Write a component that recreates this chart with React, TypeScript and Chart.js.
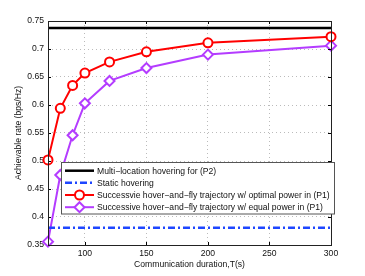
import React, { useEffect, useRef } from "react";
import { Chart, registerables } from "chart.js";

Chart.register(...registerables);

const durations = [70, 80, 90, 100, 120, 150, 200, 300];
const optimalPower = [0.502, 0.594, 0.635, 0.657, 0.677, 0.695, 0.711, 0.722];
const equalPower = [0.356, 0.475, 0.546, 0.603, 0.643, 0.666, 0.69, 0.706];
const refDurations = [70, 300];
const multiLocation = [0.7375, 0.7375];
const staticHover = [0.381, 0.381];
const xTicks = [100, 150, 200, 250, 300];

const labels = [
  "Multi\u2212location hovering for (P2)",
  "Static hovering",
  "Successvie hover\u2212and\u2212fly trajectory w/ optimal power in (P1)",
  "Successive hover\u2212and\u2212fly trajectory w/ equal power in (P1)",
];

const FONT = "'Liberation Sans', Arial, Helvetica, sans-serif";
const PURPLE = "#b43cff";
const BLUE = "#1e46ff";

const toPts = (xs: number[], ys: number[]) => xs.map((x, i) => ({ x, y: ys[i] }));

const framePlugin = {
  id: "frame",
  afterDraw(chart: any) {
    const { ctx, chartArea: a, scales } = chart;
    ctx.save();
    ctx.strokeStyle = "#000";
    ctx.lineWidth = 1;
    const tl = 3;
    xTicks.forEach((v) => {
      const x = Math.round(scales.x.getPixelForValue(v)) + 0.5;
      ctx.beginPath();
      ctx.moveTo(x, a.bottom);
      ctx.lineTo(x, a.bottom - tl);
      ctx.moveTo(x, a.top);
      ctx.lineTo(x, a.top + tl);
      ctx.stroke();
    });
    scales.y.ticks.forEach((t: any) => {
      const y = Math.round(scales.y.getPixelForValue(t.value)) + 0.5;
      ctx.beginPath();
      ctx.moveTo(a.left, y);
      ctx.lineTo(a.left + tl, y);
      ctx.moveTo(a.right, y);
      ctx.lineTo(a.right - tl, y);
      ctx.stroke();
    });
    ctx.strokeStyle = "#222";
    ctx.strokeRect(Math.round(a.left) + 0.5, Math.round(a.top) + 0.5, Math.round(a.right - a.left), Math.round(a.bottom - a.top));

    // legend
    const bx = 61.5, by = 162.5, bw = 273, bh = 51.5;
    ctx.fillStyle = "#fff";
    ctx.fillRect(bx, by, bw, bh);
    ctx.strokeStyle = "#555";
    ctx.lineWidth = 1;
    ctx.strokeRect(bx, by, bw, bh);
    const ds = chart.data.datasets;
    const rowY = [170.7, 182.8, 195.0, 207.2];
    ctx.font = `8.6px ${FONT}`;
    ctx.textBaseline = "middle";
    ds.forEach((d: any, i: number) => {
      const y = rowY[i];
      ctx.save();
      ctx.strokeStyle = d.borderColor;
      ctx.lineWidth = d.borderWidth;
      ctx.setLineDash(d.borderDash || []);
      ctx.beginPath();
      ctx.moveTo(65, y);
      ctx.lineTo(94, y);
      ctx.stroke();
      ctx.setLineDash([]);
      if (d.pointRadius > 0) {
        ctx.lineWidth = d.pointBorderWidth;
        ctx.fillStyle = "#fff";
        const cx = 79.5;
        const r = d.pointRadius;
        ctx.beginPath();
        if (d.pointStyle === "rectRot") {
          ctx.moveTo(cx, y - r);
          ctx.lineTo(cx + r, y);
          ctx.lineTo(cx, y + r);
          ctx.lineTo(cx - r, y);
          ctx.closePath();
        } else {
          ctx.arc(cx, y, r, 0, Math.PI * 2);
        }
        ctx.fill();
        ctx.stroke();
      }
      ctx.restore();
      ctx.fillStyle = "#111";
      ctx.fillText(d.label, 97, y + 0.5);
    });
    ctx.restore();
  },
};

export default function App() {
  const ref = useRef<HTMLCanvasElement>(null);
  useEffect(() => {
    if (!ref.current) return;
    const chart = new Chart(ref.current, {
      type: "line",
      data: {
        datasets: [
          {
            label: labels[0],
            data: toPts(refDurations, multiLocation),
            borderColor: "#000",
            borderWidth: 2.5,
            pointRadius: 0,
          },
          {
            label: labels[1],
            data: toPts(refDurations, staticHover),
            borderColor: BLUE,
            borderWidth: 2.5,
            borderDash: [7, 3, 2, 3],
            pointRadius: 0,
          },
          {
            label: labels[2],
            data: toPts(durations, optimalPower),
            borderColor: "#ff0000",
            borderWidth: 2,
            pointStyle: "circle",
            pointRadius: 4.5,
            pointBorderWidth: 2,
            pointBackgroundColor: "#fff",
            pointBorderColor: "#ff0000",
            clip: false,
          },
          {
            label: labels[3],
            data: toPts(durations, equalPower),
            borderColor: PURPLE,
            borderWidth: 2,
            pointStyle: "rectRot",
            pointRadius: 5,
            pointBorderWidth: 2,
            pointBackgroundColor: "#fff",
            pointBorderColor: PURPLE,
            clip: false,
          },
        ],
      },
      options: {
        animation: false,
        responsive: false,
        maintainAspectRatio: false,
        layout: { padding: { left: 0, right: 34, top: 21, bottom: 0 } },
        plugins: { legend: { display: false }, tooltip: { enabled: false } },
        scales: {
          x: {
            type: "linear",
            min: 70,
            max: 300,
            afterBuildTicks: (s: any) => {
              s.ticks = xTicks.map((v) => ({ value: v }));
            },
            afterFit: (s: any) => {
              s.height = 31;
            },
            grid: { color: "#bbb", drawTicks: false, lineWidth: 1 },
            border: { display: false, dash: [1, 3] },
            ticks: { color: "#111", padding: 3.5, font: { family: FONT, size: 8.6 } },
            title: {
              display: true,
              text: "Communication duration,T(s)",
              color: "#111",
              font: { family: FONT, size: 8.6 },
              padding: { top: 0, bottom: 6.5 },
            },
          },
          y: {
            type: "linear",
            min: 0.35,
            max: 0.75,
            afterFit: (s: any) => {
              s.width = 48;
            },
            grid: { color: "#bbb", drawTicks: false, lineWidth: 1 },
            border: { display: false, dash: [1, 3] },
            ticks: {
              color: "#111",
              padding: 4,
              stepSize: 0.05,
              font: { family: FONT, size: 8.6 },
              callback: (v: any) => {
                const n = Math.round(Number(v) * 100) / 100;
                return String(n);
              },
            },
            title: {
              display: true,
              text: "Achievable rate (bps/Hz)",
              color: "#111",
              font: { family: FONT, size: 8.6 },
              padding: { top: 13, bottom: 0 },
            },
          },
        },
      },
      plugins: [framePlugin],
    });
    return () => chart.destroy();
  }, []);
  return (
    <div style={{ position: "fixed", left: 0, top: 0, width: 365, height: 276, background: "#fff" }}>
      <canvas ref={ref} width={365} height={276} style={{ width: 365, height: 276 }} />
    </div>
  );
}
